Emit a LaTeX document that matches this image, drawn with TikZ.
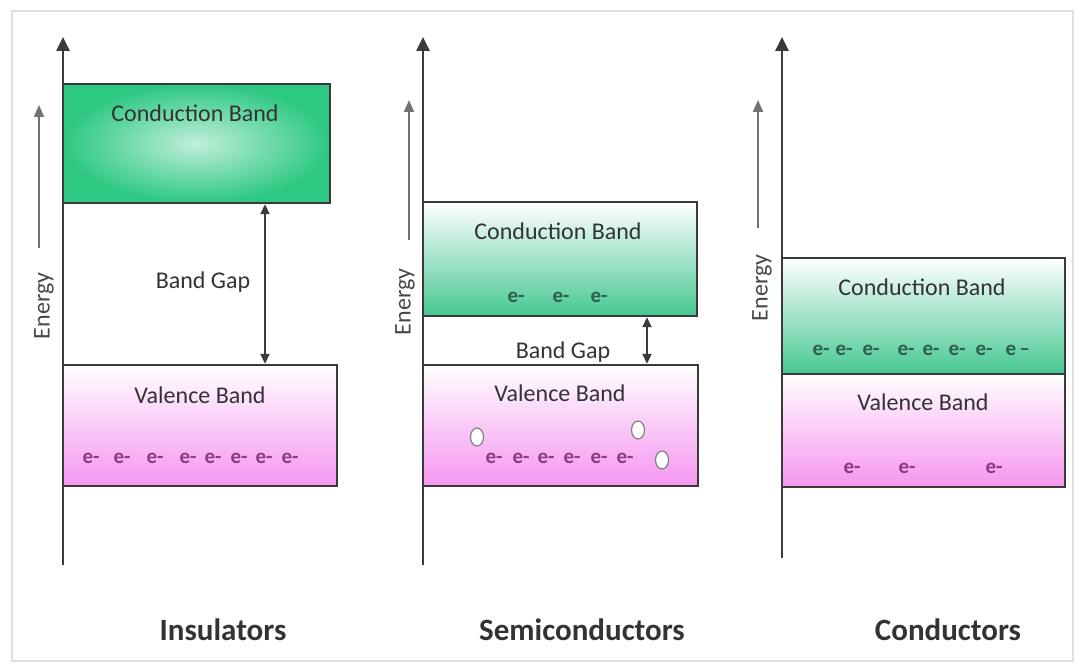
\documentclass[tikz,border=0pt]{standalone}
\usepackage{fontspec}
\setmainfont{Carlito}
\usetikzlibrary{arrows.meta}

\definecolor{txtgray}{HTML}{333333}
\definecolor{linegray}{HTML}{3A3A3A}
\definecolor{cgreen}{RGB}{70,200,145}
\definecolor{igreen}{RGB}{45,200,130}
\definecolor{vpink}{RGB}{245,150,240}
\definecolor{celec}{HTML}{2F5F4F}
\definecolor{velec}{HTML}{8E3A7E}

\begin{document}
\begin{tikzpicture}[x=1pt,y=1pt,
  axis/.style={line width=2.8pt,draw=linegray,-{Triangle[width=13pt,length=14pt]}},
  energyarrow/.style={line width=2pt,draw=gray!110,-{Triangle[width=10pt,length=12pt]}},
  gaparrow/.style={line width=1.8pt,draw=linegray,{Triangle[width=9pt,length=10pt]}-{Triangle[width=9pt,length=10pt]}},
  band/.style={rectangle,draw=linegray,line width=2.4pt,inner sep=0pt},
  cband/.style={band,top color=white,bottom color=cgreen},
  vband/.style={band,top color=white,bottom color=vpink},
  bandtext/.style={text=txtgray,font=\fontsize{24}{24}\selectfont},
  energylabel/.style={rotate=90,text=txtgray!90,font=\fontsize{24}{24}\selectfont},
  elec/.style={font=\fontsize{21}{21}\selectfont\bfseries},
  hole/.style={draw=gray,fill=white,line width=1.2pt},
  title/.style={text=txtgray,font=\fontsize{31}{31}\selectfont\bfseries}]

\useasboundingbox (0,0) rectangle (1083,664);
\draw[gray!25,line width=1.5pt] (12,3) rectangle (1073,653);

% Insulators
\coordinate (ia0) at (63,99);
\coordinate (ia1) at (63,627);
\draw[axis] (ia0) -- (ia1);
\coordinate (ie0) at (39,416);
\coordinate (ie1) at (39,559);
\draw[energyarrow] (ie0) -- (ie1);
\node[energylabel] (ien) at (44,358) {Energy};

\node[band,inner color=igreen!30,outer color=igreen,minimum width=267pt,minimum height=119pt] (icb) at (196.5,520.5) {};
\node[vband,minimum width=274pt,minimum height=121pt] (ivb) at (200,238.5) {};
\node[bandtext] (icbt) at (195,551) {Conduction Band};
\node[bandtext] (ivbt) at (200,269) {Valence Band};
\foreach \x [count=\i] in {91,122,155,188,213,239,264,290}
  \node[elec,text=velec] (ie\i) at (\x,206) {e-};

\coordinate (igap) at (265,0);
\draw[gaparrow] (icb.south -| igap) -- (ivb.north -| igap);
\node[bandtext] (igapt) at (203,382) {Band Gap};
\node[title] (ins) at (223,34) {Insulators};

% Semiconductors
\coordinate (sa0) at (423,99);
\coordinate (sa1) at (423,627);
\draw[axis] (sa0) -- (sa1);
\coordinate (se0) at (409,424);
\coordinate (se1) at (409,564);
\draw[energyarrow] (se0) -- (se1);
\node[energylabel] (sen) at (405,362) {Energy};

\node[cband,minimum width=274pt,minimum height=114pt] (scb) at (560,405) {};
\node[vband,minimum width=275pt,minimum height=121pt] (svb) at (560.5,238.5) {};
\node[bandtext] (scbt) at (558,433) {Conduction Band};
\node[bandtext] (svbt) at (560,271) {Valence Band};
\foreach \x [count=\i] in {516,561,599}
  \node[elec,text=celec] (sc\i) at (\x,367) {e-};
\foreach \x [count=\i] in {494,521,546,572,599,625}
  \node[elec,text=velec] (sv\i) at (\x,206) {e-};
\draw[hole] (477,227) ellipse [x radius=6.5, y radius=9];
\draw[hole] (638,234) ellipse [x radius=6.5, y radius=9];
\draw[hole] (662,204) ellipse [x radius=6.5, y radius=9];

\coordinate (sgap) at (647,0);
\draw[gaparrow] (scb.south -| sgap) -- (svb.north -| sgap);
\node[bandtext] (sgapt) at (563,312) {Band Gap};
\node[title] (semi) at (582,34) {Semiconductors};

% Conductors
\coordinate (ca0) at (782,106);
\coordinate (ca1) at (782,627);
\draw[axis] (ca0) -- (ca1);
\coordinate (ce0) at (758,436);
\coordinate (ce1) at (758,564);
\draw[energyarrow] (ce0) -- (ce1);
\node[energylabel] (cen) at (762,376) {Energy};

\node[cband,minimum width=283pt,minimum height=116pt] (ccb) at (923.5,348) {};
\node[vband,minimum width=283pt,minimum height=113pt] (cvb) at (923.5,233.5) {};
\node[bandtext] (ccbt) at (922,377) {Conduction Band};
\node[bandtext] (cvbt) at (923,262) {Valence Band};
\foreach \x [count=\i] in {821,844,871,906,931,957,984}
  \node[elec,text=celec] (cc\i) at (\x,314) {e-};
\node[elec,text=celec,anchor=west] (cc8) at (1002,314) {e\,--};
\foreach \x [count=\i] in {852,907,994}
  \node[elec,text=velec] (cv\i) at (\x,196) {e-};
\node[title] (cond) at (948,34) {Conductors};

\end{tikzpicture}
\end{document}
